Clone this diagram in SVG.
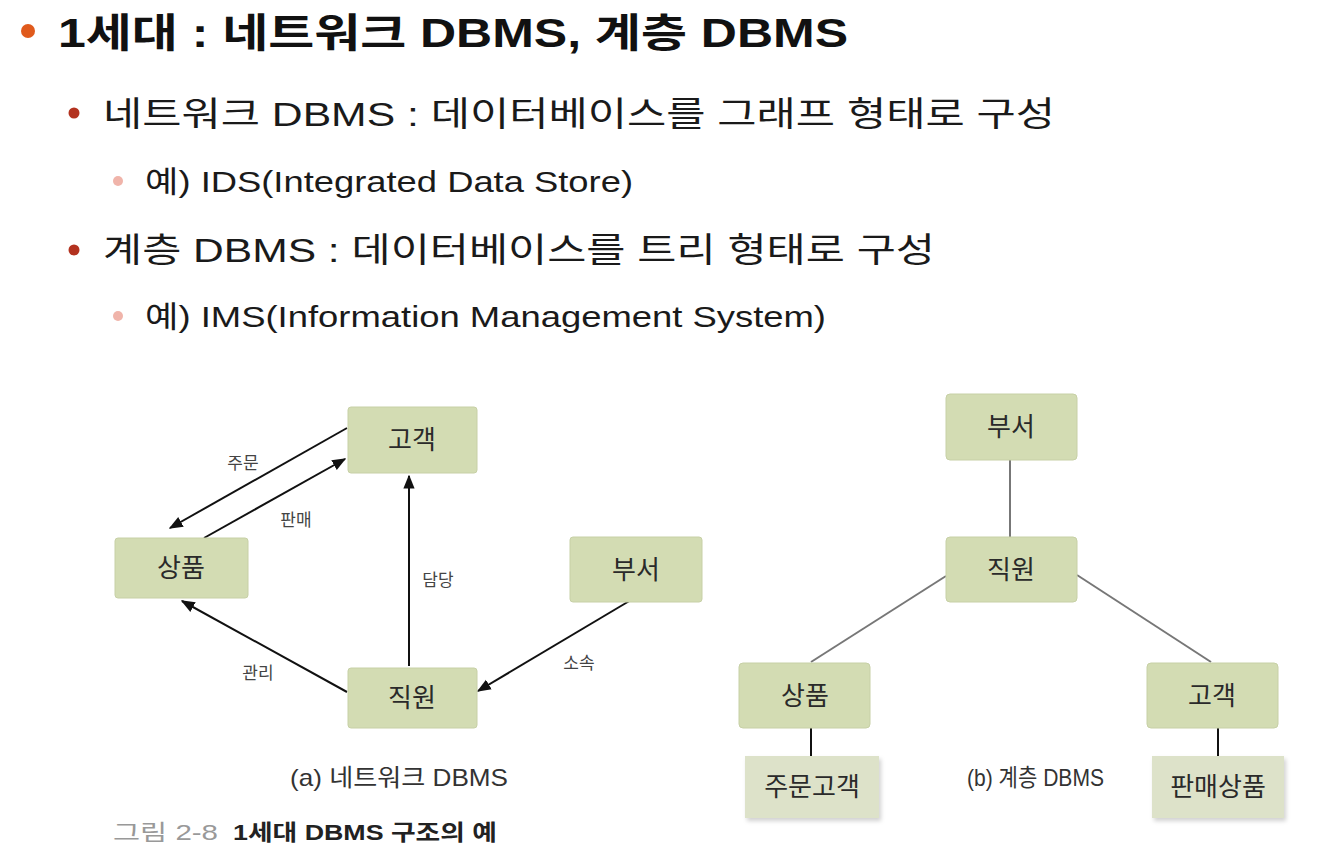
<svg xmlns="http://www.w3.org/2000/svg" width="1333" height="858" viewBox="0 0 1333 858">
  <style>
    .kr { font-family: "Liberation Sans", "Noto Sans CJK KR", sans-serif; }
    .h1 { font-size: 40px; font-weight: bold; fill: #111; }
    .h2 { font-size: 34px; fill: #1a1a1a; }
    .h3 { font-size: 30px; fill: #1a1a1a; }
    .box { fill: #d3dcb3; stroke: #c7d0a6; stroke-width: 1; }
    .leaf { fill: #dde2c9; }
    .lbl { font-size: 26px; fill: #2a2a2a; text-anchor: middle; }
    .edge { font-size: 17px; fill: #444; text-anchor: middle; }
    .arrow { stroke: #111; stroke-width: 2; fill: none; marker-end: url(#head); }
    .tree { stroke: #777; stroke-width: 2; fill: none; }
    .stem { stroke: #111; stroke-width: 2; fill: none; }
    .cap { font-size: 24px; fill: #333; }
  </style>
  <defs>
    <marker id="head" viewBox="0 0 10 10" refX="9" refY="5" markerWidth="7" markerHeight="7" orient="auto" markerUnits="strokeWidth">
      <path d="M0,1 L10,5 L0,9 z" fill="#111"/>
    </marker>
    <filter id="soft" x="-10%" y="-10%" width="125%" height="130%">
      <feDropShadow dx="2" dy="3" stdDeviation="2" flood-color="#000" flood-opacity="0.18"/>
    </filter>
  </defs>

  <rect width="1333" height="858" fill="#ffffff"/>

  <!-- heading and bullets -->
  <g id="heading" class="kr">
    <circle cx="28" cy="31" r="7" fill="#e05a1c"/>
    <text class="h1" x="58" y="47" textLength="790" lengthAdjust="spacingAndGlyphs">1세대 : 네트워크 DBMS, 계층 DBMS</text>
    <circle cx="74" cy="113" r="5.5" fill="#b3321f"/>
    <text class="h2" x="103" y="126" textLength="952" lengthAdjust="spacingAndGlyphs">네트워크 DBMS : 데이터베이스를 그래프 형태로 구성</text>
    <circle cx="118" cy="181" r="5" fill="#f0b4aa"/>
    <text class="h3" x="145" y="192" textLength="488" lengthAdjust="spacingAndGlyphs">예) IDS(Integrated Data Store)</text>
    <circle cx="74" cy="250" r="5.5" fill="#b3321f"/>
    <text class="h2" x="103" y="262" textLength="832" lengthAdjust="spacingAndGlyphs">계층 DBMS : 데이터베이스를 트리 형태로 구성</text>
    <circle cx="118" cy="316" r="5" fill="#f0b4aa"/>
    <text class="h3" x="145" y="327" textLength="681" lengthAdjust="spacingAndGlyphs">예) IMS(Information Management System)</text>
  </g>

  <!-- (a) network model: connectors -->
  <g id="net-edges">
    <line class="arrow" x1="347" y1="428" x2="170" y2="528"/>
    <line class="arrow" x1="204" y1="538" x2="345" y2="459"/>
    <line class="arrow" x1="409" y1="666" x2="409" y2="476"/>
    <line class="arrow" x1="347" y1="692" x2="182" y2="601"/>
    <line class="arrow" x1="631" y1="600" x2="478" y2="691"/>
    <g class="kr">
      <text class="edge" x="243" y="469">주문</text>
      <text class="edge" x="296" y="526">판매</text>
      <text class="edge" x="438" y="586">담당</text>
      <text class="edge" x="258" y="679">관리</text>
      <text class="edge" x="579" y="669">소속</text>
    </g>
  </g>

  <!-- (a) network model: nodes -->
  <g id="net-customer" class="kr">
    <rect class="box" x="348" y="407" width="129" height="66" rx="3"/>
    <text class="lbl" x="412" y="449">고객</text>
  </g>
  <g id="net-product" class="kr">
    <rect class="box" x="115" y="538" width="133" height="60" rx="3"/>
    <text class="lbl" x="181" y="577">상품</text>
  </g>
  <g id="net-dept" class="kr">
    <rect class="box" x="570" y="537" width="132" height="65" rx="3"/>
    <text class="lbl" x="636" y="579">부서</text>
  </g>
  <g id="net-employee" class="kr">
    <rect class="box" x="348" y="668" width="129" height="60" rx="3"/>
    <text class="lbl" x="412" y="707">직원</text>
  </g>
  <text class="kr cap" x="290" y="786" textLength="218" lengthAdjust="spacingAndGlyphs">(a) 네트워크 DBMS</text>

  <!-- (b) hierarchical model: connectors -->
  <g id="tree-edges">
    <line class="tree" x1="1010" y1="460" x2="1010" y2="537"/>
    <line class="tree" x1="946" y1="576" x2="811" y2="662"/>
    <line class="tree" x1="1077" y1="575" x2="1211" y2="662"/>
    <line class="stem" x1="811" y1="728" x2="811" y2="756"/>
    <line class="stem" x1="1218" y1="728" x2="1218" y2="756"/>
  </g>

  <!-- (b) hierarchical model: nodes -->
  <g id="tree-dept" class="kr">
    <rect class="box" x="946" y="394" width="131" height="66" rx="4"/>
    <text class="lbl" x="1011" y="436">부서</text>
  </g>
  <g id="tree-employee" class="kr">
    <rect class="box" x="946" y="537" width="131" height="65" rx="4"/>
    <text class="lbl" x="1011" y="579">직원</text>
  </g>
  <g id="tree-product" class="kr">
    <rect class="box" x="739" y="663" width="131" height="65" rx="4"/>
    <text class="lbl" x="805" y="705">상품</text>
  </g>
  <g id="tree-customer" class="kr">
    <rect class="box" x="1147" y="663" width="131" height="65" rx="4"/>
    <text class="lbl" x="1212" y="705">고객</text>
  </g>
  <g id="tree-ordered-customer" class="kr">
    <rect class="leaf" x="745" y="756" width="134" height="62" filter="url(#soft)"/>
    <text class="lbl" x="812" y="796">주문고객</text>
  </g>
  <g id="tree-sold-product" class="kr">
    <rect class="leaf" x="1152" y="756" width="132" height="62" filter="url(#soft)"/>
    <text class="lbl" x="1218" y="796">판매상품</text>
  </g>
  <text class="kr cap" x="967" y="786" textLength="137" lengthAdjust="spacingAndGlyphs">(b) 계층 DBMS</text>

  <!-- figure caption -->
  <g id="caption" class="kr">
    <text x="113" y="840" font-size="22" fill="#999" textLength="105" lengthAdjust="spacingAndGlyphs">그림 2-8</text>
    <text x="233" y="840" font-size="22" font-weight="bold" fill="#222" textLength="264" lengthAdjust="spacingAndGlyphs">1세대 DBMS 구조의 예</text>
  </g>
</svg>
